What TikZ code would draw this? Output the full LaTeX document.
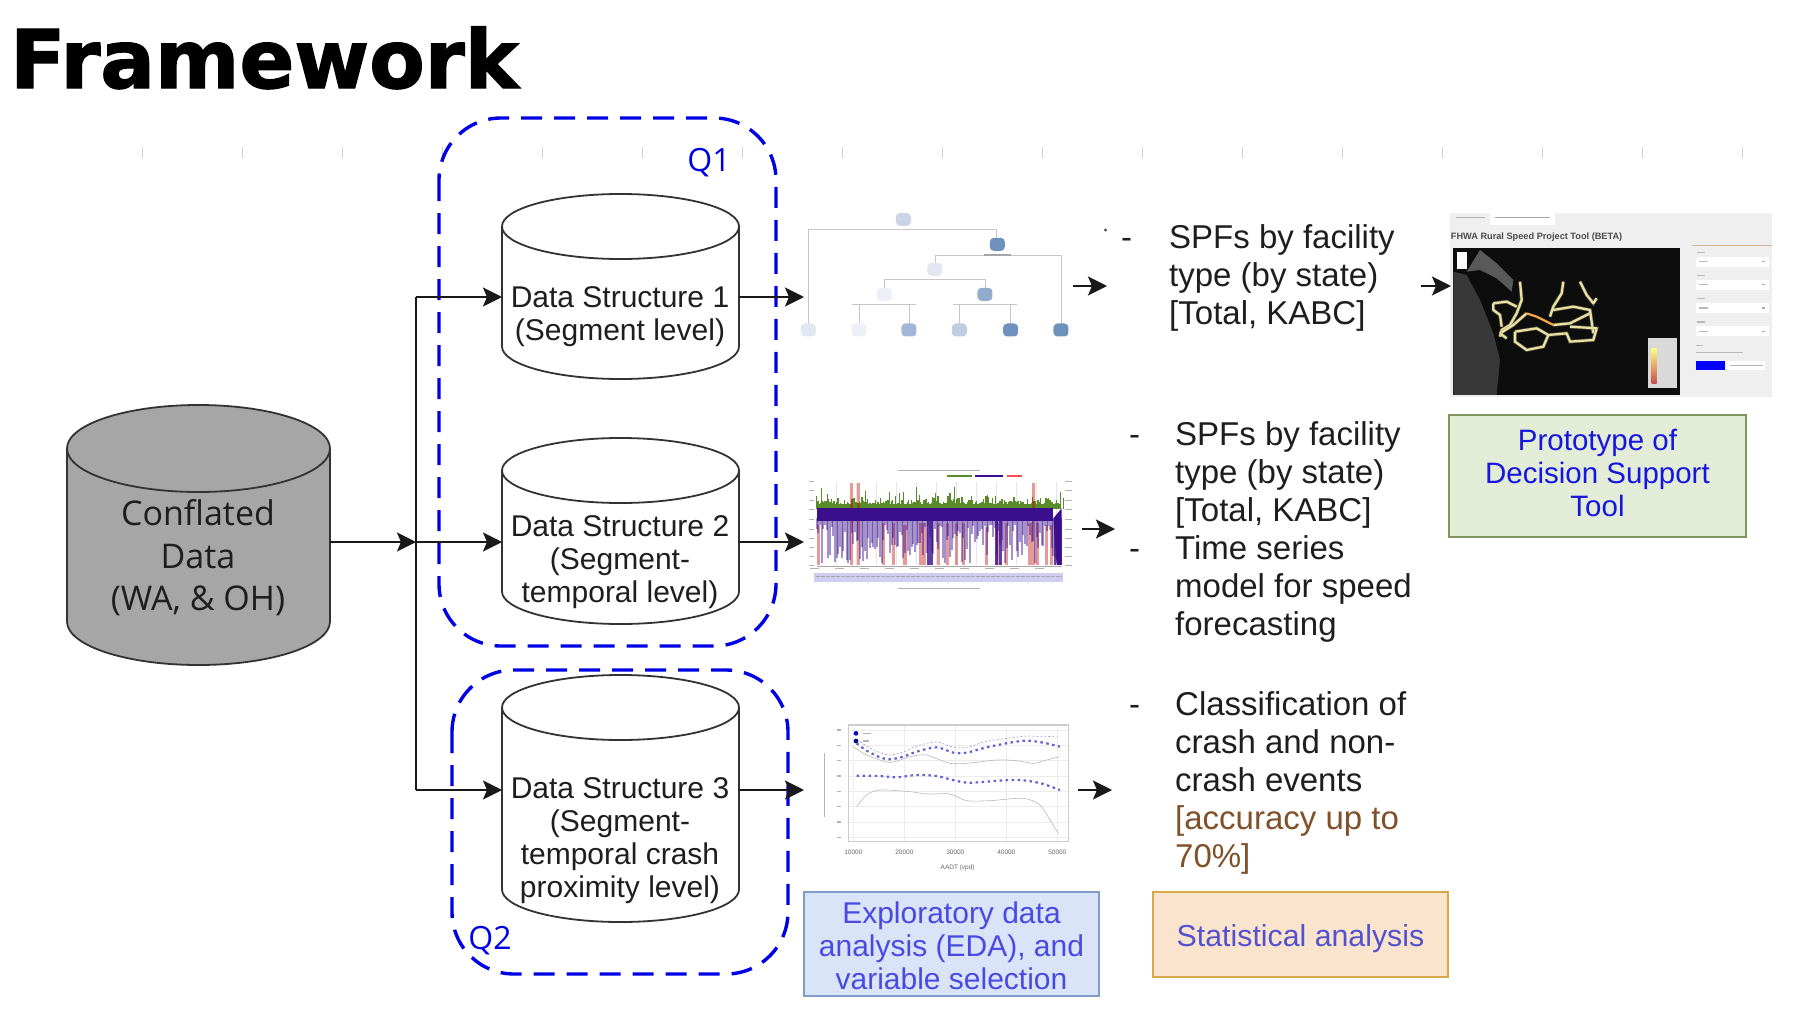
\documentclass[tikz,border=0pt]{standalone}
\usepackage{fontspec}
\setmainfont{Liberation Sans}
\newfontfamily\segfont{Open Sans}
\newfontfamily\headfont[BoldFeatures={FakeBold=1.6}]{DejaVu Sans}
\usepackage{xcolor}
\usepackage{tikz}
\usetikzlibrary{arrows.meta}
\definecolor{qblue}{RGB}{0,0,230}
\definecolor{eblue}{RGB}{74,74,226}
\definecolor{sblue}{RGB}{82,82,208}
\definecolor{pblue}{RGB}{22,22,224}
\definecolor{inktxt}{RGB}{30,30,30}
\definecolor{brownnote}{RGB}{128,80,40}
\definecolor{treeblue}{RGB}{110,145,190}
\definecolor{treelight}{RGB}{225,230,240}
\definecolor{roadyel}{RGB}{235,225,165}
\definecolor{purpband}{RGB}{58,14,140}
\definecolor{greenband}{RGB}{88,140,40}
\definecolor{edafill}{RGB}{218,228,248}
\definecolor{edaline}{RGB}{130,155,200}
\definecolor{statfill}{RGB}{250,228,205}
\definecolor{statline}{RGB}{214,170,70}
\definecolor{protofill}{RGB}{226,236,214}
\definecolor{protoline}{RGB}{125,150,90}
\tikzset{
  dbbase/.style    = {inner sep=0pt,outer sep=0pt},
  dbline/.style    = {draw=black!80,line width=1.8pt},
  dstext/.style    = {align=center,text=inktxt,font=\fontsize{30}{33}\selectfont},
  listtext/.style  = {align=left,anchor=north west,inner sep=0pt,text=inktxt,font=\fontsize{33}{38}\selectfont},
  qbox/.style      = {draw=qblue,line width=3.4pt,rounded corners=62pt,dash pattern=on 21pt off 12pt},
  qlabel/.style    = {text=qblue,font=\segfont\fontsize{32}{34}\selectfont},
  arrline/.style   = {-{Stealth[length=19pt,width=19pt,inset=4pt]},line width=2.6pt,black!90},
  busline/.style   = {line width=2.6pt,black!90},
  notebox/.style   = {draw,line width=2.5pt,align=center,inner sep=0pt,font=\fontsize{30}{33}\selectfont},
  treesplit/.style = {line width=0.9pt,gray!45},
  treenode/.style  = {rounded corners=4pt,minimum width=15pt,minimum height=13pt,inner sep=0pt},
  tinybar/.style   = {line width=2pt,gray!60},
  dropbox/.style   = {fill=white,minimum width=73pt,minimum height=10pt,inner sep=0pt},
  road/.style      = {roadyel,line width=2.2pt,line join=round,preaction={draw=roadyel!70!black,line width=3.6pt,opacity=0.5}}
}
\newcommand{\dbcyl}[7]{%
  \node[dbbase,minimum width=#4pt,minimum height=#5pt] (#1) at (#2,#3) {};
  \draw[dbline,fill=#7] (#1.north west) ++(0,#6) arc[start angle=180,end angle=0,x radius=#4/2*1pt,y radius=#6*1pt]
    -- ++(0,#5-2*#6) arc[start angle=0,end angle=-180,x radius=#4/2*1pt,y radius=#6*1pt] -- cycle;
  \draw[dbline] (#1.north west) ++(0,#6) arc[start angle=180,end angle=360,x radius=#4/2*1pt,y radius=#6*1pt];
}
\begin{document}
\begin{tikzpicture}[x=1pt,y=-1pt]
  \useasboundingbox (0,0) rectangle (1808,1012);
  \node[anchor=base west,inner sep=0pt,font=\headfont\bfseries\fontsize{81}{81}\selectfont] (title) at (10,88) {Framework};
  % ruler ticks
  \foreach \tx in {142,242,...,1742}
    \draw[gray!35,line width=1pt] (\tx,147) -- (\tx,158);

  % databases
  \dbcyl{conflated}{198.5}{535}{263}{260}{43.5}{gray!70}
  \dbcyl{ds1}{620.5}{286.5}{237}{185}{32.5}{white}
  \dbcyl{ds2}{620.5}{531}{237}{186}{32.5}{white}
  \dbcyl{ds3}{620.5}{798.5}{237}{247}{32.5}{white}
  \node[align=center,text=inktxt,font=\segfont\fontsize{34}{42.6}\selectfont] (conftext) at (198,558) {Conflated\\Data\\(WA, \& OH)};
  \node[dstext] (ds1text) at (620,317) {Data Structure 1\\(Segment level)};
  \node[dstext] (ds2text) at (620,562) {Data Structure 2\\(Segment-\\temporal level)};
  \node[dstext] (ds3text) at (620,840.5) {Data Structure 3\\(Segment-\\temporal crash\\proximity level)};

  % research question groups
  \draw[qbox] (439,118) rectangle (776,646);
  \draw[qbox] (452,670) rectangle (788,974);
  \node[qlabel] (q1) at (709,163) {Q1};
  \node[qlabel] (q2) at (490,941) {Q2};

  % connectors from the data
  \coordinate (bustop) at (416,297);
  \coordinate (busmid) at (416,542);
  \coordinate (busbot) at (416,790);
  \draw[busline] (bustop) -- (busbot);
  \draw[arrline] (busmid -| conflated.east) -- (busmid);
  \draw[arrline] (bustop) -- (bustop -| ds1.west);
  \draw[arrline] (busmid) -- (busmid -| ds2.west);
  \draw[arrline] (busbot) -- (busbot -| ds3.west);
  \coordinate (treein) at (804,297);
  \coordinate (ploton) at (804,542);
  \coordinate (curvein) at (804,790);
  \draw[arrline] (treein -| ds1.east) -- (treein);
  \draw[arrline] (ploton -| ds2.east) -- (ploton);
  \draw[arrline] (curvein -| ds3.east) -- (curvein);

  % decision tree picture
  \begin{scope}[shift={(790,190)},x=0.3333pt,y=-0.3333pt]
    \draw[treesplit] (55,405) -- (55,118) -- (620,118) -- (620,150);
    \draw[treesplit] (435,225) -- (435,195) -- (813,195) -- (813,405);
    \draw[treesplit] (283,300) -- (283,268) -- (585,268) -- (585,300);
    \draw[treesplit] (207,405) -- (207,343) (357,405) -- (357,343);
    \draw[treesplit] (508,405) -- (508,343) (662,405) -- (662,343);
    \draw[line width=1.6pt,gray!45] (185,343) -- (378,343) (490,343) -- (682,343) (270,118) -- (402,118) (392,268) -- (476,268);
    \draw[line width=1.6pt,gray!70] (582,195) -- (664,195);
    \foreach \nx/\ny/\nc/\nm in {340/88/treelight!80!treeblue/root,622/163/treeblue/nodeb,435/238/treelight/nodec,283/313/treelight!60!white/noded,585/313/treeblue!75!white/nodee,55/420/treelight/leafa,207/420/treelight!60!white/leafb,357/420/treeblue!65!white/leafc,508/420/treeblue!45!white/leafd,662/420/treeblue/leafe,813/420/treeblue/leaff}
      \node[treenode,fill=\nc] (\nm) at (\nx,\ny) {};
  \end{scope}

  % time series picture
  \begin{scope}[shift={(790,450)},x=0.3333pt,y=-0.3333pt]
    \pgfmathsetseed{11}
    \foreach \gx in {140,200,...,800}
      \draw[gray!20,line width=0.4pt] (\gx,95) -- (\gx,345);
    \foreach \gx in {80,84,...,815} {
      \pgfmathsetmacro\gh{162-40*rnd*rnd}
      \draw[greenband,line width=1.3pt] (\gx,178) -- (\gx,\gh);
    }
    \foreach \gx/\gh in {95/115,225/122,380/112,495/112,300/125,820/145}
      \draw[greenband,line width=1pt] (\gx,178) -- (\gx,\gh);
    \foreach \rx/\rt in {85/225,185/100,205/100,280/220,310/220,345/225,392/220,402/220,445/220,472/220,500/220,520/220,590/230,622/220,650/220,720/220,730/100,742/220,770/225,785/225}
      \fill[red!75!black,opacity=0.4] (\rx-5,\rt) rectangle (\rx+5,345);
    \foreach \px in {80,85,...,810} {
      \pgfmathsetmacro\pl{225+115*rnd}
      \draw[purpband,opacity=0.45,line width=1.8pt] (\px,205) -- (\px,\pl);
    }
    \foreach \px in {415,425,620,632,795,805,812}
      \draw[purpband,opacity=0.8,line width=2.6pt] (\px,205) -- (\px,345);
    \fill[purpband] (80,175) rectangle (790,212);
    \fill[purpband] (790,205) -- (815,175) -- (815,345) -- (800,345) -- cycle;
    \draw[gray!70,line width=0.5pt] (80,348) -- (815,348);
    \fill[gray!45!blue!25] (72,370) rectangle (820,396);
    \draw[gray!70,line width=1pt,dash pattern=on 4pt off 1pt] (78,380) -- (815,380);
    \draw[tinybar,line width=1.6pt] (325,62) -- (570,62) (325,415) -- (570,415);
    \draw[greenband,line width=1.2pt] (470,78) -- (545,78);
    \draw[purpband,line width=1.2pt] (555,78) -- (640,78);
    \draw[red!70,line width=1.2pt] (650,78) -- (695,78);
    \draw[gray!60,line width=1pt,dash pattern=on 9pt off 16pt] (60,355) -- (780,355);
    \foreach \ly in {95,122,150,178,208,238,265,293,320,347} {
      \draw[gray!60,line width=1pt] (58,\ly) -- (72,\ly);
      \draw[gray!60,line width=1pt] (825,\ly) -- (845,\ly);
    }
  \end{scope}

  % speed curves picture
  \begin{scope}[shift={(810,710)},x=0.3333pt,y=-0.3333pt]
    \foreach \gy in {60,106,152,198,244,290,336,382}
      \draw[gray!15,line width=0.4pt] (115,\gy) -- (775,\gy);
    \foreach \gx in {130,283,436,589,742}
      \draw[gray!15,line width=0.4pt] (\gx,45) -- (\gx,395);
    \draw[gray!40,line width=1.3pt] (115,45) rectangle (775,395);
    \draw[blue!40!gray!55,line width=0.6pt,dash pattern=on 2pt off 2pt] plot[smooth] coordinates {(140,88) (170,108) (210,128) (240,135) (280,126) (320,108) (380,96) (430,112) (470,112) (530,94) (600,84) (650,78) (700,80) (750,78)};
    \draw[gray!55,line width=0.6pt] plot[smooth] coordinates {(130,110) (170,135) (240,157) (300,140) (350,135) (420,160) (490,158) (560,150) (620,152) (670,160) (710,150) (750,140)};
    \draw[gray!55,line width=0.6pt] plot[smooth] coordinates {(140,290) (170,255) (210,240) (300,245) (350,252) (420,252) (470,272) (540,272) (640,265) (690,285) (720,330) (745,370)};
    \draw[blue!55!gray!80,line width=2.2pt,dash pattern=on 2.5pt off 3.5pt] plot[smooth] coordinates {(140,100) (170,122) (210,142) (240,148) (280,140) (320,125) (380,112) (430,128) (470,128) (530,112) (600,98) (650,92) (700,98) (750,110)};
    \draw[blue!55!gray!80,line width=2.2pt,dash pattern=on 2.5pt off 3.5pt] plot[smooth] coordinates {(140,197) (210,198) (260,202) (320,195) (380,198) (420,208) (470,218) (530,215) (600,210) (650,212) (700,222) (750,240)};
    \fill[blue!80!black] (138,70) circle (7);
    \fill[blue!50!black] (138,93) circle (7);
    \draw[tinybar,line width=1.4pt] (160,70) -- (182,70) (160,93) -- (178,93);
    \foreach \ly in {60,106,152,198,244,290,336,382}
      \draw[gray!60,line width=1.4pt] (80,\ly) -- (92,\ly);
    \draw[gray!60,line width=1.4pt] (43,130) -- (43,320);
    \foreach \lx/\lt in {130/10000,283/20000,436/30000,589/40000,742/50000}
      \node[text=gray!80!black,font=\fontsize{6.5}{7}\selectfont,inner sep=0pt] at (\lx,428) {\lt};
    \node[text=gray!80!black,font=\fontsize{6.5}{7}\selectfont,inner sep=0pt] (aadt) at (443,472) {AADT (vpd)};
  \end{scope}

  % tool screenshot
  \begin{scope}[shift={(1430,200)},x=0.3333pt,y=-0.3333pt]
    \fill[blue!4!gray!12] (60,40) rectangle (1027,590);
    \fill[white] (180,40) rectangle (375,75);
    \draw[gray!60,line width=1.2pt] (78,53) -- (165,53);
    \draw[gray!70,line width=1.2pt] (195,53) -- (360,53);
    \node[anchor=west,inner sep=0pt,text=gray!60!black,font=\bfseries\fontsize{9.2}{10}\selectfont] (tooltitle) at (62,110) {FHWA Rural Speed Project Tool (BETA)};
    \fill[black!95] (70,145) rectangle (750,585);
    \fill[black!78] (70,215) -- (110,225) -- (150,300) -- (190,400) -- (210,480) -- (200,585) -- (70,585) -- cycle;
    \fill[black!65] (150,150) -- (200,190) -- (250,240) -- (245,275) -- (200,235) -- (150,210) -- (110,215) -- cycle;
    \fill[white] (82,155) rectangle (112,208);
    \draw[road] (270,245) -- (275,300) -- (260,340) -- (240,375) -- (215,390) -- (210,410);
    \draw[road] (190,310) -- (230,305) -- (260,320);
    \draw[road] (190,310) -- (190,330) -- (210,345) -- (215,380);
    \draw[road] (210,400) -- (250,375) -- (290,340);
    \draw[road] (370,375) -- (420,370) -- (480,340);
    \draw[road] (400,245) -- (395,280) -- (370,320) -- (360,350);
    \draw[road] (370,330) -- (430,320) -- (480,330) -- (490,400);
    \draw[road] (450,245) -- (470,285) -- (490,310) -- (500,295);
    \draw[road] (255,395) -- (320,385) -- (355,405) -- (410,400) -- (420,425) -- (490,420) -- (500,385) -- (420,380);
    \draw[road] (255,395) -- (255,425) -- (290,450) -- (340,440) -- (355,405);
    \draw[road] (210,400) -- (230,415);
    \draw[orange!60!roadyel,line width=2.2pt] (290,340) -- (320,350) -- (370,375);
    \fill[gray!30] (655,415) rectangle (740,565);
    \shade[top color=yellow!50,bottom color=red!70!black!70] (665,445) rectangle (680,550);
    \foreach \dy in {185,254,324,394} {
      \node[dropbox] at (908,\dy) {};
      \draw[gray!55,line width=1.2pt] (800,\dy-28) -- (825,\dy-28);
      \draw[gray!55,line width=1.2pt] (808,\dy) -- (835,\dy);
      \draw[gray!65,line width=1.2pt] (997,\dy) -- (1004,\dy);
    }
    \draw[orange!40!gray!60,line width=1.6pt] (785,137) -- (1027,137);
    \draw[gray!55,line width=1.2pt] (797,436) -- (820,436) (797,458) -- (940,458);
    \fill[blue] (797,482) rectangle (885,510);
    \fill[white] (890,482) rectangle (1005,510);
    \draw[gray!60,line width=1.2pt] (900,496) -- (998,496);
  \end{scope}

  % arrows to the lists and the tool
  \coordinate (t1s) at (1073,286);
  \coordinate (t1e) at (1107,286);
  \coordinate (t2s) at (1082,529);
  \coordinate (t2e) at (1115,529);
  \coordinate (t3s) at (1078,790);
  \coordinate (t3e) at (1112,790);
  \coordinate (t4s) at (1421,286);
  \coordinate (t4e) at (1451,286);
  \foreach \an/\bn in {t1s/t1e,t2s/t2e,t3s/t3e,t4s/t4e}
    \draw[arrline] (\an) -- (\bn);

  % result lists
  \fill[black!70] (1105.5,230) circle (1.6);
  \node[listtext] (dasha) at (1121,224) {\vphantom{b}-};
  \node[listtext] (lista) at (1169,224) {SPFs by facility\\type (by state)\\{[Total, KABC]}};
  \node[listtext] (dashb) at (1129,421) {\vphantom{b}-};
  \node[listtext] (dashc) at (1129,535) {\vphantom{b}-};
  \node[listtext] (listb) at (1175,421) {SPFs by facility\\type (by state)\\{[Total, KABC]}\\Time series\\model for speed\\forecasting};
  \node[listtext] (dashd) at (1129,691) {\vphantom{b}-};
  \node[listtext] (listc) at (1175,691) {Classification of\\crash and non-\\crash events\\\textcolor{brownnote}{[accuracy up to}\\\textcolor{brownnote}{70\%]}};

  % captions
  \node[notebox,draw=edaline,fill=edafill,text=eblue,minimum width=295pt,minimum height=104pt] (edabox) at (951.5,944) {\rule{0pt}{26pt}Exploratory data\\analysis (EDA), and\\variable selection};
  \node[notebox,draw=statline,fill=statfill,text=sblue,minimum width=295pt,minimum height=85pt,font=\fontsize{30.3}{33}\selectfont] (statbox) at (1300.5,934.5) {\rule{0pt}{30pt}Statistical analysis};
  \node[notebox,draw=protoline,fill=protofill,text=pblue,minimum width=297pt,minimum height=122pt,font=\fontsize{29.5}{33}\selectfont] (protobox) at (1597.5,476) {Prototype of\\Decision Support\\Tool\rule[-7pt]{0pt}{0pt}};
\end{tikzpicture}
\end{document}
